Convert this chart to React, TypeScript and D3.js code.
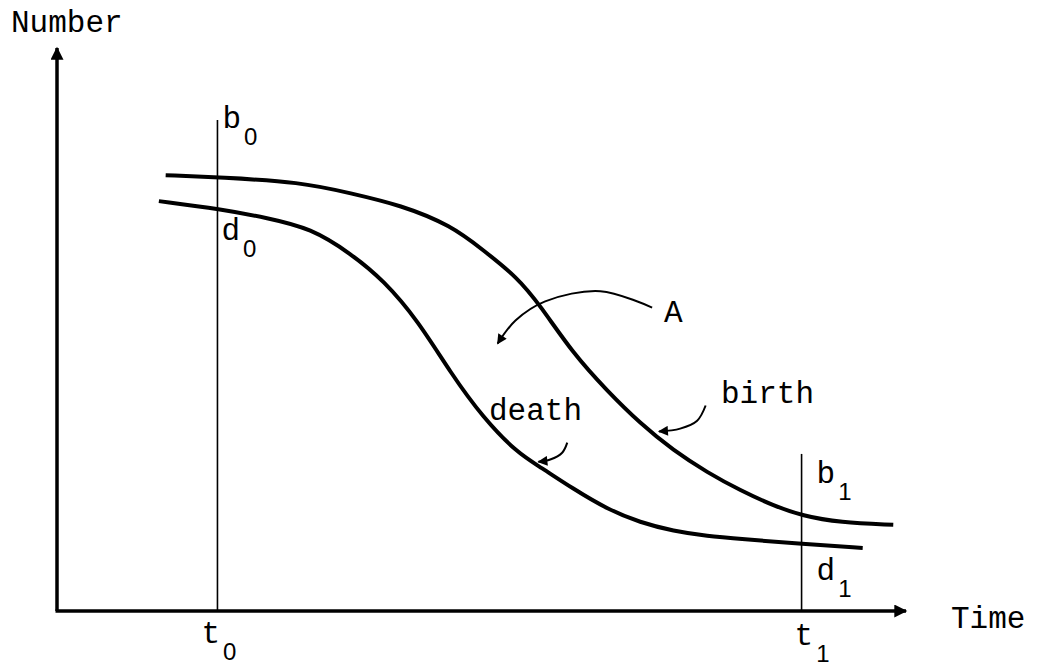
import React from "react";
import * as d3 from "d3";

// birth and death curves (time 0-100, number 0-100)
const birthTime = [12.8, 19.3, 28.7, 34.6, 40.5, 46.4, 50.2, 54.2, 56.9, 60.8, 64.8, 68.7, 72.6, 76.6, 80.5, 84.4, 87.8, 92.2, 98.5];
const birthNumber = [77.4, 77.0, 76.2, 74.2, 72.1, 68.5, 64.1, 59.3, 54.3, 45.7, 39.1, 33.3, 28.5, 24.6, 21.4, 18.7, 16.9, 15.7, 15.3];
const deathTime = [12.0, 19.3, 24.8, 29.9, 34.6, 38.5, 42.5, 46.4, 50.2, 54.2, 56.9, 60.8, 64.8, 68.7, 72.6, 76.6, 80.5, 87.8, 94.9];
const deathNumber = [72.8, 71.4, 69.8, 68.0, 63.5, 58.7, 51.6, 42.2, 34.3, 28.1, 25.6, 21.7, 18.1, 15.7, 14.2, 13.3, 12.8, 11.9, 11.2];

// the two time marks and how high their lines reach
const t0 = 18.9;
const t1 = 87.7;
const t0Top = 87.2;
const t1Top = 27.9;

// annotation arrows (time, number)
const arrowA: [number, number][] = [[70.1, 53.9], [64.0, 56.8], [57.5, 55.0], [54.0, 51.6], [51.9, 47.5]];
const arrowBirth: [number, number][] = [[76.4, 36.5], [75.4, 33.8], [73.4, 32.4], [70.9, 31.9]];
const arrowDeath: [number, number][] = [[60.1, 29.9], [59.5, 28.1], [58.1, 26.9], [56.7, 26.5]];

const W = 1039;
const H = 669;
const font = "'Liberation Mono', 'DejaVu Sans Mono', monospace";
const digitFont = "'Liberation Sans', Arial, sans-serif";

export default function App() {
  const x = d3.scaleLinear().domain([0, 100]).range([57, 906]);
  const y = d3.scaleLinear().domain([0, 100]).range([611, 48]);

  const smooth = d3
    .line<[number, number]>()
    .x((d) => x(d[0]))
    .y((d) => y(d[1]))
    .curve(d3.curveBasis);

  const arrow = d3
    .line<[number, number]>()
    .x((d) => x(d[0]))
    .y((d) => y(d[1]))
    .curve(d3.curveCatmullRom);

  const birth = birthTime.map((t, i) => [t, birthNumber[i]] as [number, number]);
  const death = deathTime.map((t, i) => [t, deathNumber[i]] as [number, number]);

  const sub = (main: string, digit: string, px: number, py: number, key: string) => (
    <text key={key} x={px} y={py} fontFamily={font} fontSize={31} fill="#000">
      {main}
      <tspan fontFamily={digitFont} fontSize={24} dx={3} dy={17}>
        {digit}
      </tspan>
    </text>
  );

  return (
    <svg width={W} height={H} style={{ position: "absolute", left: 0, top: 0, background: "#fff" }}>
      <defs>
        <marker id="head" viewBox="0 0 10 10" refX={9} refY={5} markerWidth={14} markerHeight={10} markerUnits="userSpaceOnUse" orient="auto">
          <path d="M0,0 L10,5 L0,10 Z" fill="#000" />
        </marker>
        <marker id="axisHead" viewBox="0 0 10 10" refX={9} refY={5} markerWidth={28} markerHeight={13} markerUnits="userSpaceOnUse" orient="auto">
          <path d="M0,0 L10,5 L0,10 Z" fill="#000" />
        </marker>
      </defs>

      {/* axes */}
      <line x1={x(0)} y1={y(0)} x2={x(0)} y2={y(100)} stroke="#000" strokeWidth={3.5} markerEnd="url(#axisHead)" />
      <line x1={x(0) - 1.5} y1={y(0)} x2={x(100)} y2={y(0)} stroke="#000" strokeWidth={3.5} markerEnd="url(#axisHead)" />

      {/* t0 and t1 lines */}
      <line x1={x(t0)} y1={y(0)} x2={x(t0)} y2={y(t0Top)} stroke="#000" strokeWidth={1.6} />
      <line x1={x(t1)} y1={y(0)} x2={x(t1)} y2={y(t1Top)} stroke="#000" strokeWidth={1.6} />

      {/* curves */}
      <path d={smooth(birth) ?? ""} fill="none" stroke="#000" strokeWidth={4} />
      <path d={smooth(death) ?? ""} fill="none" stroke="#000" strokeWidth={4} />

      {/* annotation arrows */}
      {[arrowA, arrowBirth, arrowDeath].map((a, i) => (
        <path key={i} d={arrow(a) ?? ""} fill="none" stroke="#000" strokeWidth={2} markerEnd="url(#head)" />
      ))}

      {/* texts */}
      <text x={11} y={32} fontFamily={font} fontSize={31} fill="#000">Number</text>
      <text x={951} y={628} fontFamily={font} fontSize={31} fill="#000">Time</text>
      <text x={664} y={322} fontFamily={font} fontSize={31} fill="#000">A</text>
      <text x={721} y={403} fontFamily={font} fontSize={31} fill="#000">birth</text>
      <text x={489} y={420} fontFamily={font} fontSize={31} fill="#000">death</text>

      {sub("b", "0", x(t0) + 5, 128, "b0")}
      {sub("d", "0", x(t0) + 4, 240, "d0")}
      {sub("b", "1", x(t1) + 15, 483, "b1")}
      {sub("d", "1", x(t1) + 15, 580, "d1")}
      {sub("t", "0", x(t0) - 16, 643, "t0")}
      {sub("t", "1", x(t1) - 7, 645, "t1")}
    </svg>
  );
}
